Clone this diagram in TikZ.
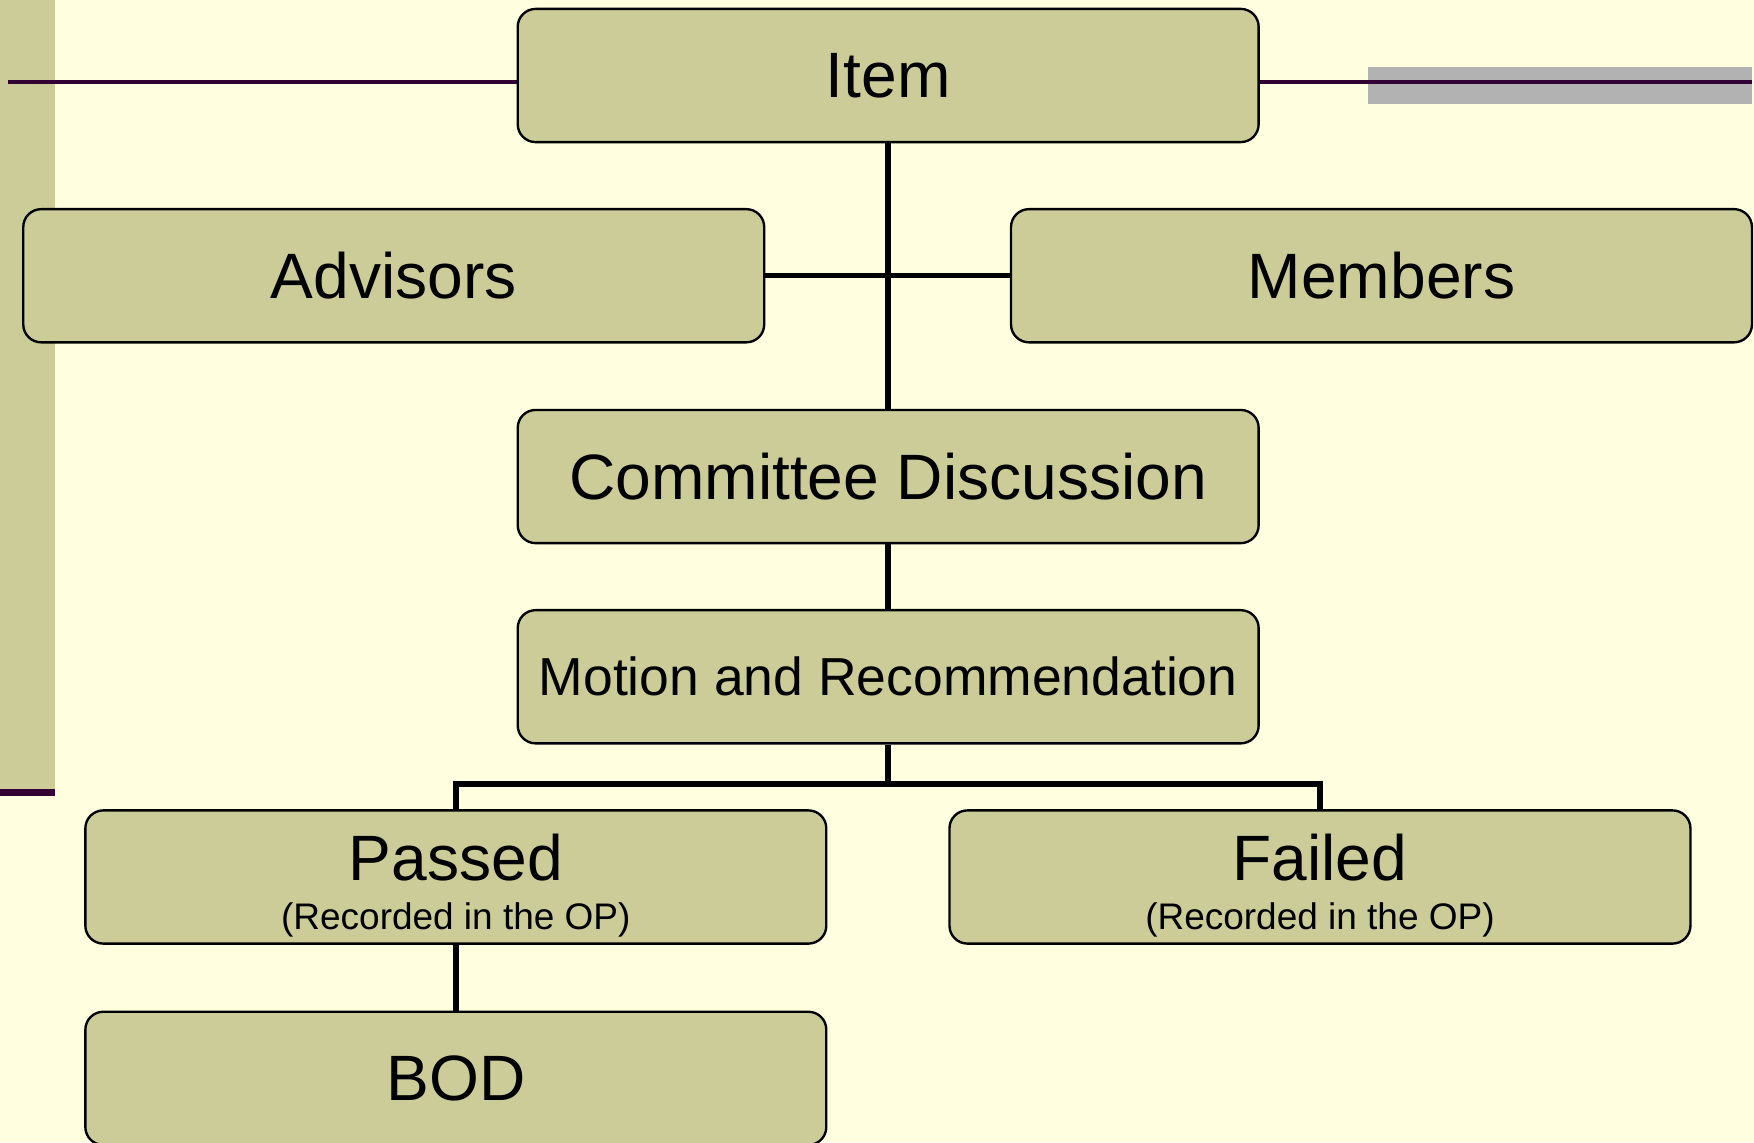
\documentclass[tikz,border=0pt]{standalone}
\usepackage{fontspec}
\setmainfont{Liberation Sans}
\usetikzlibrary{positioning}
\definecolor{slidebg}{RGB}{255,255,224}
\definecolor{boxolive}{RGB}{204,204,153}
\definecolor{plum}{RGB}{51,0,51}
\definecolor{bargray}{RGB}{178,178,178}
\tikzstyle{box} = [draw=black, line width=0.6pt, fill=boxolive, rounded corners=0.16cm,
  minimum width=6.62cm, minimum height=1.19cm, inner sep=0pt, align=center,
  font=\fontsize{16.3}{12.5}\selectfont]
\tikzstyle{line} = [draw, line width=1.4pt]
\newcommand{\notetext}{\fontsize{9.4}{12.5}\selectfont}

\begin{document}
\begin{tikzpicture}[x=0.01cm,y=-0.01cm]
  \useasboundingbox (0,0) rectangle (1568,1021);
  \fill[slidebg] (0,0) rectangle (1568,1021);
  % slide decoration
  \fill[boxolive] (0,0) rectangle (49,705);
  \fill[plum] (0,705) rectangle (49,712);
  \fill[bargray] (1223,60) rectangle (1566,93);
  \draw[plum, line width=1pt] (7,73) -- (1566,73);

  \node[box] (item) at (794,67.5) {Item};
  \node[box] (advisors) at (352,246.5) {Advisors};
  \node[box] (members) at (1235,246.5) {Members};
  \node[box] (discussion) at (794,426) {Committee Discussion};
  \node[box, font=\fontsize{13.6}{15}\selectfont] (motion) at (794,605) {Motion and Recommendation};
  \node[box] (passed) at (407.5,784) {\rule{0pt}{16.3pt}Passed\\{\notetext (Recorded in the OP)}};
  \node[box] (failed) at (1180,784) {\rule{0pt}{16.3pt}Failed\\{\notetext (Recorded in the OP)}};
  \node[box] (bod) at (407.5,964) {BOD};

  \path [line] (item) -- (discussion);
  \path [line] (advisors) -- (members);
  \path [line] (discussion) -- (motion);
  \coordinate (split) at (794,701);
  \path [line] (motion) -- (split);
  \path [line] (split) -| (passed);
  \path [line] (split) -| (failed);
  \path [line] (passed) -- (bod);
\end{tikzpicture}
\end{document}
